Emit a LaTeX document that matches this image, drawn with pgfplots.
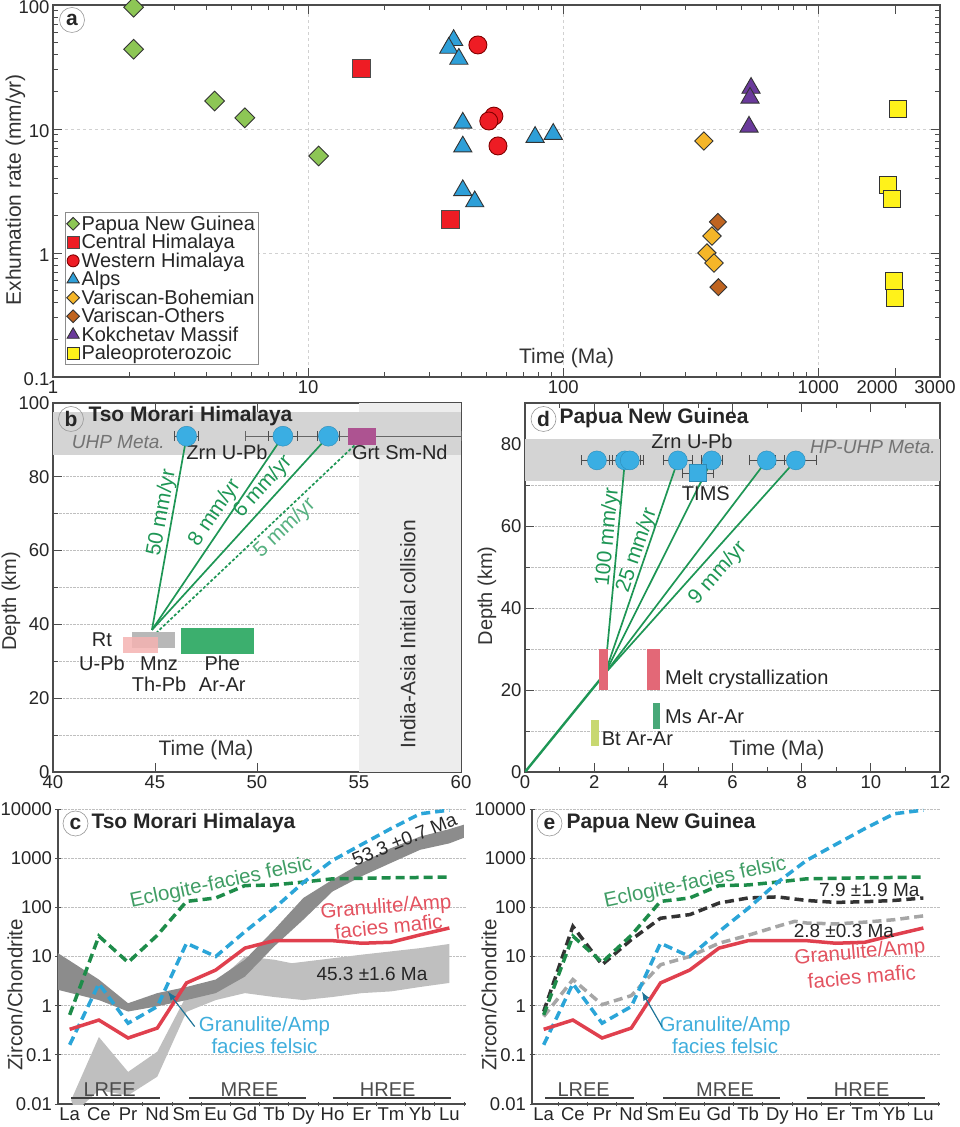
\documentclass[border=0pt]{standalone}
\usepackage{pgfplots}
\pgfplotsset{compat=1.18}
\usepackage{fontspec}
\setmainfont{Liberation Sans}
\usetikzlibrary{arrows.meta}

\definecolor{cpng}{HTML}{8DC655}
\definecolor{cred}{HTML}{EE1C24}
\definecolor{calps}{HTML}{2E9FD8}
\definecolor{cvbo}{HTML}{F5B629}
\definecolor{cvot}{HTML}{BF6420}
\definecolor{ckok}{HTML}{6A3A9B}
\definecolor{cpal}{HTML}{FFF21A}
\definecolor{ptblue}{HTML}{3AAEE3}
\definecolor{rategreen}{HTML}{1E9655}
\definecolor{ecl}{HTML}{1E8C4A}
\definecolor{fel}{HTML}{2BA5D8}
\definecolor{maf}{HTML}{E0404E}
\definecolor{rtpink}{HTML}{F4B3B2}
\definecolor{phe}{HTML}{3CAF6E}
\definecolor{grt}{HTML}{AD5391}
\definecolor{melt}{HTML}{E36877}
\definecolor{msg}{HTML}{48A878}
\definecolor{btg}{HTML}{C8D870}

\newcommand{\fs}[1]{\fontsize{#1}{#1}\selectfont}

\pgfplotsset{
  panel/.style={
    scale only axis, anchor=south west,
    axis line style={black!70, line width=1.1pt},
    tick style={black!70, line width=0.8pt},
    tick align=inside,
    major tick length=9pt, minor tick length=5pt,
    tick label style={font=\fs{18.5}, text=black!85},
    label style={font=\fs{21}, text=black!80},
    /pgf/number format/assume math mode=true,
    grid style={densely dotted, black!25, line width=0.7pt},
  },
  ptstyle/.style={only marks, mark=*, mark size=10pt,
    mark options={fill=ptblue, draw=ptblue!80!black, line width=0.4pt},
    error bars/x dir=both, error bars/x explicit,
    error bars/error mark=|,
    error bars/error bar style={black!70, line width=0.8pt},
    error bars/error mark options={mark size=5pt, black!70, line width=0.8pt}},
  rate/.style={rategreen, line width=1.7pt},
  ree/.style={line width=3.5pt, dash pattern=on 9pt off 5pt},
  reepanel/.style={panel,
    width=408pt, height=295pt,
    ymin=0.01, ymax=10000, xmin=-0.4, xmax=13.57,
    axis x line=bottom, axis y line=left,
    axis line style={-},
    major tick length=5pt,
    xtick={0.5,1.5,...,13.5}, xticklabels={},
    extra x ticks={0,...,13},
    extra x tick labels={La,Ce,Pr,Nd,Sm,Eu,Gd,Tb,Dy,Ho,Er,Tm,Yb,Lu},
    extra x tick style={major tick length=0pt},
    ytick={0.01,0.1,1,10,100,1000,10000},
    yticklabels={0.01,0.1,1,10,100,1000,10000},
    yminorticks=false,
    ymajorgrids,
    ylabel={Zircon/Chondrite},
    ylabel style={at={(axis description cs:-0.105,0.37)}, anchor=center, font=\fs{20.5}},
  },
}

\begin{document}
\begin{tikzpicture}
\useasboundingbox (0,0) rectangle (960pt,1127pt);

% ---------------- panel a
\begin{axis}[panel, at={(53pt,750pt)}, width=887pt, height=372pt,
  xmode=log, ymode=log, xmin=1, xmax=3000, ymin=0.1, ymax=100,
  xtick={1,10,100,1000}, xticklabels={1,10,100,1000},
  extra x ticks={2000,3000},
  extra x tick labels={\makebox[0pt]{\hspace*{-36pt}2000},\makebox[0pt]{\hspace*{-10pt}3000}},
  extra x tick style={grid=none},
  ytick={0.1,1,10,100}, yticklabels={0.1,1,10,100},
  yticklabel style={yshift=-2pt},
  grid=major, major grid style={dashed, black!18, line width=0.8pt},
  xlabel={Time (Ma)}, xlabel style={at={(axis description cs:0.579,0.051)}, anchor=center},
  ylabel={Exhumation rate (mm/yr)}, ylabel style={at={(axis description cs:-0.0423,0.503)}, anchor=center},
  legend cell align=left,
  legend style={at={(axis description cs:0.0135,0.032)}, anchor=south west,
    draw=black!45, line width=0.6pt, font=\fs{20}, inner sep=1.5pt, row sep=-1.5pt, text=black!85},
]
\addplot[only marks, mark=square*, mark size=7pt,
  mark options={rotate=45, fill=cpng, draw=black!80, line width=0.9pt},
  legend image post style={mark size=4.5pt}]
  coordinates {(2.07,96) (2.07,44) (4.3,16.8) (5.65,12.3) (11,6.06)};
\addlegendentry{Papua New Guinea}
\addplot[only marks, mark=square*, mark size=9pt,
  mark options={fill=cred, draw=black!70, line width=0.9pt},
  legend image post style={mark size=6pt}]
  coordinates {(16.2,30.5) (36.2,1.85)};
\addlegendentry{Central Himalaya}
\addplot[only marks, mark=*, mark size=9pt,
  mark options={fill=cred, draw=red!50!black, line width=0.9pt},
  legend image post style={mark size=6pt}]
  coordinates {(46.3,47.6) (53.5,12.7) (51.1,11.6) (55.5,7.3)};
\addlegendentry{Western Himalaya}
\addplot[only marks, mark=triangle*, mark size=10.5pt,
  mark options={fill=calps, draw=black!80, line width=0.9pt},
  legend image post style={mark size=7pt}]
  coordinates {(37.2,52) (35.6,45) (39,36.7) (40.4,11.2) (40.4,7.2) (40.4,3.2) (45,2.6) (77.6,8.6) (91.4,9.1)};
\addlegendentry{Alps}
\addplot[only marks, mark=square*, mark size=6.5pt,
  mark options={rotate=45, fill=cvbo, draw=black!80, line width=0.9pt},
  legend image post style={mark size=4.5pt}]
  coordinates {(356,8.0) (383,1.37) (366,1.0) (390,0.83)};
\addlegendentry{Variscan-Bohemian}
\addplot[only marks, mark=square*, mark size=6pt,
  mark options={rotate=45, fill=cvot, draw=black!80, line width=0.9pt},
  legend image post style={mark size=4.5pt}]
  coordinates {(404,1.78) (406,0.53)};
\addlegendentry{Variscan-Others}
\addplot[only marks, mark=triangle*, mark size=10.5pt,
  mark options={fill=ckok, draw=black!80, line width=0.9pt},
  legend image post style={mark size=7pt}]
  coordinates {(545,21.4) (540,17.8) (535,10.4)};
\addlegendentry{Kokchetav Massif}
\addplot[only marks, mark=square*, mark size=8.5pt,
  mark options={fill=cpal, draw=black!80, line width=0.9pt},
  legend image post style={mark size=6pt}]
  coordinates {(2047,14.5) (1870,3.53) (1937,2.73) (1974,0.59) (1995,0.43)};
\addlegendentry{Paleoproterozoic}
\end{axis}

% ---------------- panel b
\begin{axis}[panel, at={(53pt,355pt)}, width=408pt, height=369pt,
  xmin=40, xmax=60, ymin=0, ymax=100,
  xtick={40,45,...,60}, xticklabels={40,45,50,55,60},
  ytick={0,20,...,100}, yticklabels={0,20,40,60,80,100},
  minor ytick={10,30,...,90},
  ymajorgrids, yminorgrids,
  xlabel={Time (Ma)}, xlabel style={at={(axis description cs:0.375,0.06)}, anchor=center},
  ylabel={Depth (km)}, ylabel style={at={(axis description cs:-0.103,0.463)}, anchor=center, font=\fs{20}},
]
\addplot[fill=black!7, draw=none] coordinates {(55,0) (60,0) (60,100) (55,100)};
\addplot[fill=black!17, draw=none] coordinates {(40,86) (60,86) (60,97.5) (40,97.5)};
\addplot[black!60, line width=0.7pt, mark=|, mark size=5pt] coordinates {(49.45,91) (60,91)};
\addplot[ptstyle] coordinates {(46.55,91) +- (0.6,0) (51.27,91) +- (0.7,0) (53.5,91) +- (0.55,0)};
\addplot[rate] coordinates {(46.55,91) (44.85,38.5)};
\addplot[rate] coordinates {(51.27,91) (44.85,38.5)};
\addplot[rate] coordinates {(53.5,91) (44.85,38.5)};
\addplot[rate, densely dashed] coordinates {(54.95,89.4) (45.1,37.9)};
\addplot[fill=black!28, draw=none] coordinates {(43.87,33.6) (46.0,33.6) (46.0,37.9) (43.87,37.9)};
\addplot[fill=rtpink, fill opacity=0.85, draw=none] coordinates {(43.43,32.2) (45.15,32.2) (45.15,36.6) (43.43,36.6)};
\addplot[fill=phe, draw=none] coordinates {(46.27,32) (49.85,32) (49.85,39) (46.27,39)};
\addplot[fill=grt, draw=none] coordinates {(54.46,88.6) (55.83,88.6) (55.83,93.2) (54.46,93.2)};
\node[font=\itshape\fs{19}, text=black!55] at (axis cs:43.2,89.4) {UHP Meta.};
\node[font=\fs{20}, text=black!85] at (axis cs:48.53,86.7) {Zrn U-Pb};
\node[font=\fs{20}, text=black!85] at (axis cs:57.0,86.7) {Grt Sm-Nd};
\node[font=\fs{20}, text=black!85] at (axis cs:42.4,35.8) {Rt};
\node[font=\fs{20}, text=black!85] at (axis cs:42.4,29.5) {U-Pb};
\node[font=\fs{20}, text=black!85] at (axis cs:45.2,29.5) {Mnz};
\node[font=\fs{20}, text=black!85] at (axis cs:45.2,23.8) {Th-Pb};
\node[font=\fs{20}, text=black!85] at (axis cs:48.3,29.5) {Phe};
\node[font=\fs{20}, text=black!85] at (axis cs:48.3,23.8) {Ar-Ar};
\node[font=\fs{21}, text=black!80, rotate=90] at (axis cs:57.4,37.4) {India-Asia Initial collision};
\node[font=\fs{21}, text=rategreen, rotate=79.8, inner sep=0pt] at (axis cs:45.34,70.2) {50 mm/yr};
\node[font=\fs{21}, text=rategreen, rotate=55.9, inner sep=0pt] at (axis cs:47.94,70.2) {8 mm/yr};
\node[font=\fs{21}, text=rategreen, rotate=47.7, inner sep=0pt] at (axis cs:50.3,77.2) {6 mm/yr};
\node[font=\fs{21}, text=rategreen!75, rotate=43.4, inner sep=0pt] at (axis cs:51.37,66.1) {5 mm/yr};
\end{axis}

% ---------------- panel d
\begin{axis}[panel, at={(525pt,355pt)}, width=415pt, height=369pt,
  xmin=0, xmax=12, ymin=0, ymax=90,
  xtick={0,2,...,12}, xticklabels={0,2,4,6,8,10,12},
  minor xtick={1,3,...,11},
  ytick={0,20,...,80}, yticklabels={0,20,40,60,80},
  minor ytick={10,30,...,70},
  ymajorgrids, yminorgrids,
  xlabel={Time (Ma)}, xlabel style={at={(axis description cs:0.607,0.06)}, anchor=center},
  ylabel={Depth (km)}, ylabel style={at={(axis description cs:-0.0916,0.477)}, anchor=center, font=\fs{20}},
]
\addplot[fill=black!17, draw=none] coordinates {(0,71) (12,71) (12,81.3) (0,81.3)};
\addplot[ptstyle, mark size=9.5pt] coordinates {(2.08,76) +- (0.45,0) (2.89,76) +- (0.45,0) (3.03,76) +- (0.4,0)
  (4.42,76) +- (0.43,0) (5.40,76) +- (0.3,0) (6.99,76) +- (0.5,0) (7.83,76) +- (0.6,0)};
\addplot[ptstyle, mark=square*, mark size=8.5pt] coordinates {(5.0,72.9) +- (0.45,0)};
\addplot[rate, line width=2.4pt] coordinates {(0,0) (2.31,24)};
\addplot[rate] coordinates {(2.89,76) (2.31,24)};
\addplot[rate] coordinates {(4.42,76) (2.31,24)};
\addplot[rate] coordinates {(5.40,76) (2.31,24)};
\addplot[rate] coordinates {(6.99,76) (2.31,24)};
\addplot[rate] coordinates {(7.83,76) (2.31,24)};
\addplot[fill=melt, draw=none] coordinates {(2.14,20) (2.40,20) (2.40,30) (2.14,30)};
\addplot[fill=melt, draw=none] coordinates {(3.52,20) (3.90,20) (3.90,30) (3.52,30)};
\addplot[fill=msg, draw=none] coordinates {(3.70,10.5) (3.90,10.5) (3.90,16.8) (3.70,16.8)};
\addplot[fill=btg, draw=none] coordinates {(1.90,6.3) (2.15,6.3) (2.15,12.7) (1.90,12.7)};
\node[font=\fs{20}, text=black!85] at (axis cs:4.83,80.6) {Zrn U-Pb};
\node[font=\fs{20}, text=black!85] at (axis cs:5.23,68.0) {TIMS};
\node[font=\itshape\fs{19}, text=black!55] at (axis cs:10.06,79.3) {HP-UHP Meta.};
\node[font=\fs{20}, text=black!85, anchor=west] at (axis cs:3.95,22.7) {Melt crystallization};
\node[font=\fs{20}, text=black!85, anchor=west] at (axis cs:3.95,13.4) {Ms Ar-Ar};
\node[font=\fs{20}, text=black!85, anchor=west] at (axis cs:2.12,8.0) {Bt Ar-Ar};
\node[font=\fs{21}, text=rategreen, rotate=84.6, inner sep=0pt] at (axis cs:2.40,57.3) {100 mm/yr};
\node[font=\fs{21}, text=rategreen, rotate=71.1, inner sep=0pt] at (axis cs:3.24,54.1) {25 mm/yr};
\node[font=\fs{21}, text=rategreen, rotate=48.3, inner sep=0pt] at (axis cs:5.58,48.5) {9 mm/yr};
\end{axis}

% ---------------- panel c
\begin{axis}[reepanel, ymode=log, at={(58pt,23pt)}]
\addplot[fill=black!25, draw=none] coordinates {
  (0.05,0.012) (1,0.23) (2,0.045) (3,0.116) (4,1.6) (5,2.9) (6,10) (7,8.6) (7.6,7.3)
  (9,9.2) (10,10.9) (11,12.7) (12,14.8) (13,18)
  (13,2.9) (12,2.4) (11,1.95) (10,1.8) (9,1.5) (8,1.3) (7,1.5) (6,1.8) (5,1.3) (4,0.75)
  (3,0.036) (2,0.015) (1,0.019) (0.2,0.007)};
\addplot[fill=black!45, draw=none] coordinates {
  (-0.4,11.7) (1,3.4) (2,1.12) (3,1.8) (4,2.4) (5,3.4) (6,8.6) (7,35) (8,155) (9,365)
  (10,800) (11,1600) (12,2750) (13,3900) (13.5,4800)
  (13.5,2600) (13,2000) (12,1480) (11,800) (10,430) (9,210) (8,56) (7,16) (6,3.9) (5,1.8)
  (4,1.3) (3,0.97) (2,0.76) (1,1.3) (-0.4,2.1)};
\addplot[ree, ecl] coordinates {(0,0.65) (1,26) (2,7.6) (3,27) (4,132) (5,155) (6,277) (7,285) (8,327) (9,380) (10,390) (11,400) (12,405) (13,413)};
\addplot[ree, fel] coordinates {(0,0.16) (1,2.8) (2,0.44) (3,0.96) (4,18.6) (5,10) (6,32) (7,95) (8,320) (9,900) (10,1900) (11,4000) (12,8000) (13,9500)};
\addplot[maf, line width=3.5pt] coordinates {(0,0.33) (1,0.51) (2,0.22) (3,0.35) (4,2.9) (5,5.3) (6,14.8) (7,21) (8,21) (9,21) (10,18.6) (11,19.5) (12,27.5) (13,38)};
\draw[black!75, line width=2pt] (axis cs:0.06,0.013) -- (axis cs:3.08,0.013);
\draw[black!75, line width=2pt] (axis cs:4.1,0.013) -- (axis cs:8.1,0.013);
\draw[black!75, line width=2pt] (axis cs:9.0,0.013) -- (axis cs:13.05,0.013);
\node[font=\fs{20}, text=black!70] at (axis cs:1.37,0.0193) {LREE};
\node[font=\fs{20}, text=black!70] at (axis cs:6.16,0.0193) {MREE};
\node[font=\fs{20}, text=black!70] at (axis cs:10.89,0.0193) {HREE};
\node[font=\fs{20.5}, text=ecl!85, rotate=12] at (axis cs:5.19,310) {Eclogite-facies felsic};
\node[font=\fs{19}, text=black!85, rotate=22] at (axis cs:11.46,2380) {53.3 ±0.7 Ma};
\node[font=\fs{20.5}, text=maf!90, rotate=4.5] at (axis cs:10.83,97) {Granulite/Amp};
\node[font=\fs{20.5}, text=maf!90, rotate=6] at (axis cs:10.92,41) {facies mafic};
\node[font=\fs{19}, text=black!85] at (axis cs:10.35,4.45) {45.3 ±1.6 Ma};
\node[font=\fs{20.5}, text=fel!90] at (axis cs:6.67,0.376) {Granulite/Amp};
\node[font=\fs{20.5}, text=fel!90] at (axis cs:6.67,0.147) {facies felsic};
\draw[-{Latex[length=9pt]}, fel!70!black, line width=1.2pt] (axis cs:4.28,0.376) -- (axis cs:3.36,1.94);
\end{axis}

% ---------------- panel e
\begin{axis}[reepanel, ymode=log, at={(532pt,23pt)}]
\addplot[ree, black!35] coordinates {(0,0.6) (1,3.4) (2,1.05) (3,1.6) (4,6.8) (5,10) (6,18.6) (7,27) (8,41) (8.6,52) (9,48) (10,46) (11,50) (12,56) (13,67)};
\addplot[ree, black!80] coordinates {(0,0.76) (1,41) (2,6.8) (3,22) (4,60) (5,71) (6,122) (7,155) (8,163) (9,138) (10,126) (11,130) (12,138) (13,155)};
\addplot[ree, ecl] coordinates {(0,0.65) (1,26) (2,7.6) (3,27) (4,132) (5,155) (6,277) (7,285) (8,327) (9,380) (10,390) (11,400) (12,405) (13,413)};
\addplot[ree, fel] coordinates {(0,0.16) (1,2.8) (2,0.44) (3,0.96) (4,18.6) (5,10) (6,32) (7,95) (8,320) (9,900) (10,1900) (11,4000) (12,8000) (13,9500)};
\addplot[maf, line width=3.5pt] coordinates {(0,0.33) (1,0.51) (2,0.22) (3,0.35) (4,2.9) (5,5.3) (6,14.8) (7,21) (8,21) (9,21) (10,18.6) (11,19.5) (12,27.5) (13,38)};
\draw[black!75, line width=2pt] (axis cs:0.06,0.013) -- (axis cs:3.08,0.013);
\draw[black!75, line width=2pt] (axis cs:4.1,0.013) -- (axis cs:8.1,0.013);
\draw[black!75, line width=2pt] (axis cs:9.0,0.013) -- (axis cs:13.05,0.013);
\node[font=\fs{20}, text=black!70] at (axis cs:1.37,0.0193) {LREE};
\node[font=\fs{20}, text=black!70] at (axis cs:6.21,0.0193) {MREE};
\node[font=\fs{20}, text=black!70] at (axis cs:10.89,0.0193) {HREE};
\node[font=\fs{20.5}, text=ecl!85, rotate=12] at (axis cs:5.19,310) {Eclogite-facies felsic};
\node[font=\fs{19}, text=black!85] at (axis cs:11.15,228) {7.9 ±1.9 Ma};
\node[font=\fs{19}, text=black!85] at (axis cs:10.28,32.4) {2.8 ±0.3 Ma};
\node[font=\fs{20.5}, text=maf!90, rotate=5] at (axis cs:10.83,11.7) {Granulite/Amp};
\node[font=\fs{20.5}, text=maf!90, rotate=5] at (axis cs:10.89,3.9) {facies mafic};
\node[font=\fs{20.5}, text=fel!90] at (axis cs:6.21,0.376) {Granulite/Amp};
\node[font=\fs{20.5}, text=fel!90] at (axis cs:6.21,0.147) {facies felsic};
\draw[-{Latex[length=9pt]}, fel!70!black, line width=1.2pt] (axis cs:4.05,0.376) -- (axis cs:3.36,1.94);
\end{axis}

% ---------------- panel titles
\tikzset{plab/.style={circle, draw=black!40, line width=0.6pt, inner sep=0pt, minimum size=25pt, font=\bfseries\fs{21}, text=black!85},
         ptit/.style={anchor=west, font=\bfseries\fs{21}, text=black!85}}
\node[plab] at (72pt,1107pt) {a};
\node[plab] at (71pt,708pt) {b};
\node[ptit] at (85pt,711pt) {Tso Morari Himalaya};
\node[plab] at (543.5pt,708pt) {d};
\node[ptit] at (556pt,709pt) {Papua New Guinea};
\node[plab] at (75.5pt,303.5pt) {c};
\node[ptit] at (88pt,304pt) {Tso Morari Himalaya};
\node[plab] at (549.5pt,303.5pt) {e};
\node[ptit] at (563pt,304pt) {Papua New Guinea};
\end{tikzpicture}
\end{document}
